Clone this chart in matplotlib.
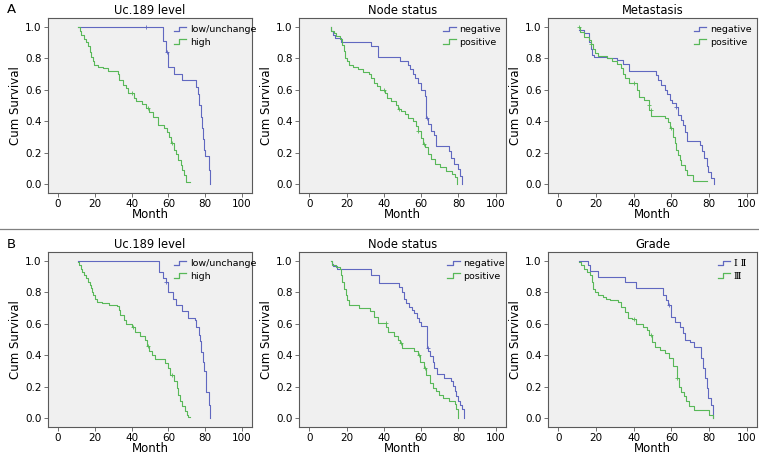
import numpy as np
import matplotlib
matplotlib.use("Agg")
import matplotlib.pyplot as plt
from matplotlib.lines import Line2D
from matplotlib.legend_handler import HandlerBase

plt.rcParams['font.family'] = ['DejaVu Sans']

############################### Data ######################################
# A - Uc.189 level
a1_low_t = [10.8, 57.1, 58.6, 59.8, 63.1, 67.6, 74.8, 76.0, 76.8, 77.5, 78.2, 78.7, 79.3, 80.0, 82.0, 82.9]
a1_low_s = [1.0, 0.91, 0.84, 0.745, 0.70, 0.66, 0.62, 0.57, 0.50, 0.43, 0.36, 0.29, 0.22, 0.18, 0.09, 0.0]
a1_low_c = [48, 59.2]
a1_high_t = [10.8, 11.7, 12.6, 14.1, 15.3, 16.2, 17.1, 18.0, 18.9, 19.8, 21.6, 24.3, 27.0, 32.4, 33.3,
             35.1, 36.9, 37.8, 41.4, 42.3, 45.9, 47.7, 49.5, 51.4, 54.1, 57.7, 59.1, 60.4, 61.6, 63.1,
             64.0, 65.2, 66.7, 67.6, 68.5, 69.4, 71.7]
a1_high_s = [1.0, 0.97, 0.945, 0.92, 0.90, 0.88, 0.84, 0.81, 0.78, 0.76, 0.745, 0.735, 0.72, 0.70, 0.66,
             0.63, 0.61, 0.58, 0.55, 0.53, 0.51, 0.485, 0.46, 0.43, 0.375, 0.355, 0.333, 0.30, 0.26, 0.22,
             0.19, 0.155, 0.12, 0.09, 0.06, 0.013, 0.013]
a1_high_c = [40, 49, 62]

# A - Node status
a2_neg_t = [11.4, 11.9, 12.8, 13.7, 16.9, 33.0, 36.9, 48.5, 52.9, 54.2, 55.6, 56.9, 58.3, 59.7, 61.9,
            62.7, 63.6, 65.4, 66.8, 68.1, 75.2, 76.1, 77.4, 79.7, 81.1, 82.0]
a2_neg_s = [1.0, 0.97, 0.95, 0.93, 0.90, 0.875, 0.806, 0.785, 0.76, 0.73, 0.70, 0.675, 0.645, 0.60, 0.56,
            0.42, 0.38, 0.34, 0.31, 0.244, 0.21, 0.17, 0.128, 0.097, 0.055, 0.0]
a2_neg_c = [63.2]
a2_pos_t = [11.4, 11.9, 13.4, 14.6, 16.4, 17.6, 18.5, 19.1, 20.0, 21.2, 23.5, 26.2, 28.9, 31.9, 33.0,
            34.8, 36.5, 37.8, 40.8, 41.9, 44.0, 46.7, 47.6, 49.4, 51.2, 52.9, 55.6, 57.4, 58.3, 59.7,
            61.0, 61.9, 63.6, 65.4, 67.6, 69.9, 73.4, 76.5, 77.9, 79.3]
a2_pos_s = [1.0, 0.97, 0.96, 0.94, 0.92, 0.886, 0.845, 0.80, 0.78, 0.756, 0.743, 0.73, 0.714, 0.70, 0.676,
            0.644, 0.623, 0.60, 0.58, 0.55, 0.528, 0.503, 0.48, 0.465, 0.444, 0.423, 0.40, 0.37, 0.34, 0.297,
            0.255, 0.234, 0.19, 0.16, 0.128, 0.107, 0.086, 0.065, 0.044, 0.0]
a2_pos_c = [40, 48, 58.5, 61.5]

# A - Metastasis
a3_neg_t = [11.1, 13.4, 16.5, 17.2, 17.9, 18.8, 26.0, 31.4, 34.4, 37.3, 52.0, 52.9, 54.7, 56.5, 57.7,
            59.1, 60.6, 62.4, 63.6, 64.9, 66.0, 67.2, 68.5, 75.3, 76.2, 77.4, 78.9, 79.7, 81.2, 82.4]
a3_neg_s = [0.98, 0.96, 0.90, 0.86, 0.82, 0.81, 0.80, 0.787, 0.766, 0.718, 0.693, 0.66, 0.63, 0.60, 0.57,
            0.535, 0.514, 0.49, 0.44, 0.41, 0.377, 0.335, 0.276, 0.25, 0.21, 0.166, 0.114, 0.078, 0.04, 0.0]
a3_neg_c = [62.4]
a3_pos_t = [11.1, 11.6, 13.4, 16.1, 17.4, 18.3, 19.4, 21.1, 26.0, 28.7, 31.4, 33.2, 34.1, 35.5, 37.3,
            41.6, 43.0, 45.7, 48.0, 48.4, 49.3, 56.5, 58.2, 59.5, 60.9, 61.8, 62.7, 63.6, 64.5, 65.4,
            67.2, 68.5, 71.3, 78.9]
a3_pos_s = [1.0, 0.966, 0.935, 0.914, 0.893, 0.86, 0.83, 0.815, 0.80, 0.78, 0.766, 0.735, 0.697, 0.676, 0.64,
            0.60, 0.556, 0.535, 0.503, 0.47, 0.436, 0.42, 0.394, 0.356, 0.303, 0.26, 0.22, 0.187, 0.156, 0.124,
            0.093, 0.06, 0.019, 0.019]
a3_pos_c = [11.1, 17.4, 40, 48.1, 49, 59.6]

# B - Uc.189 level
b1_low_t = [10.8, 55.1, 57.3, 58.6, 59.6, 62.7, 64.1, 67.2, 70.8, 74.4, 75.3, 76.6, 77.1, 78.0, 78.9,
            79.5, 80.2, 80.7, 82.2, 82.9]
b1_low_s = [1.0, 0.93, 0.89, 0.867, 0.80, 0.76, 0.72, 0.68, 0.635, 0.625, 0.58, 0.53, 0.49, 0.42, 0.36,
            0.30, 0.234, 0.17, 0.085, 0.0]
b1_low_c = [58.9]
b1_high_t = [10.8, 11.4, 12.3, 13.2, 14.1, 15.3, 16.4, 17.1, 17.7, 18.2, 18.9, 20.0, 21.3, 24.0, 27.6,
             32.1, 33.0, 33.9, 35.7, 36.9, 40.2, 41.6, 44.7, 47.4, 48.6, 49.2, 51.0, 52.8, 58.2, 59.6,
             60.9, 63.2, 64.5, 65.4, 66.3, 67.6, 69.0, 69.9, 70.8, 71.7]
b1_high_s = [0.99, 0.97, 0.95, 0.93, 0.91, 0.89, 0.867, 0.846, 0.825, 0.80, 0.78, 0.76, 0.74, 0.73, 0.72,
             0.71, 0.69, 0.656, 0.625, 0.597, 0.58, 0.55, 0.52, 0.50, 0.456, 0.424, 0.40, 0.378, 0.35, 0.32,
             0.276, 0.234, 0.19, 0.15, 0.11, 0.076, 0.044, 0.023, 0.008, 0.008]
b1_high_c = [41, 49, 62]

# B - Node status
b2_neg_t = [11.5, 12.0, 12.9, 15.1, 33.0, 37.5, 48.3, 49.6, 50.6, 51.9, 53.7, 54.9, 56.4, 57.8, 59.1,
            60.0, 63.2, 63.9, 65.0, 66.2, 67.1, 68.6, 72.5, 76.1, 77.0, 77.9, 78.8, 79.7, 81.1, 82.0, 82.9]
b2_neg_s = [1.0, 0.98, 0.966, 0.95, 0.91, 0.86, 0.834, 0.80, 0.76, 0.73, 0.708, 0.687, 0.666, 0.634, 0.613,
            0.588, 0.445, 0.424, 0.393, 0.36, 0.32, 0.28, 0.256, 0.235, 0.204, 0.172, 0.14, 0.11, 0.084, 0.057, 0.0]
b2_neg_c = [63.5]
b2_pos_t = [11.5, 12.4, 14.2, 16.5, 17.2, 17.8, 18.7, 19.6, 20.5, 21.4, 26.8, 32.7, 34.5, 36.6, 41.1,
            42.4, 45.6, 47.4, 48.8, 49.6, 56.4, 58.5, 59.6, 61.4, 62.7, 64.5, 66.2, 68.0, 69.8, 71.6,
            75.2, 77.9, 78.8, 79.7]
b2_pos_s = [1.0, 0.975, 0.96, 0.95, 0.91, 0.866, 0.82, 0.78, 0.75, 0.72, 0.697, 0.68, 0.645, 0.603, 0.58,
            0.55, 0.52, 0.50, 0.477, 0.445, 0.424, 0.40, 0.36, 0.32, 0.277, 0.225, 0.193, 0.172, 0.15, 0.13,
            0.113, 0.088, 0.057, 0.0]
b2_pos_c = [41, 49, 59, 62]

# B - Grade
b3_g12_t = [11.0, 15.8, 16.9, 20.8, 35.2, 41.5, 55.8, 57.3, 58.0, 59.8, 62.1, 64.5, 66.2, 67.5, 69.8,
            72.0, 75.9, 77.0, 77.7, 78.8, 79.5, 81.0, 82.2]
b3_g12_s = [1.0, 0.97, 0.933, 0.897, 0.865, 0.827, 0.78, 0.75, 0.718, 0.644, 0.613, 0.58, 0.54, 0.497, 0.486,
            0.455, 0.38, 0.318, 0.255, 0.19, 0.128, 0.082, 0.0]
b3_g12_c = [59]
b3_g3_t = [11.0, 11.8, 13.6, 15.4, 16.7, 17.8, 18.5, 19.6, 20.8, 23.5, 25.3, 27.5, 31.6, 33.4, 35.2,
           37.0, 39.3, 41.5, 45.1, 46.9, 48.3, 49.6, 51.3, 54.0, 56.7, 58.5, 60.9, 63.0, 63.9, 65.2,
           66.6, 68.0, 69.3, 72.0, 80.1, 82.2]
b3_g3_s = [0.99, 0.97, 0.95, 0.93, 0.907, 0.865, 0.823, 0.80, 0.785, 0.77, 0.76, 0.75, 0.74, 0.707, 0.676,
           0.638, 0.627, 0.60, 0.58, 0.56, 0.528, 0.486, 0.455, 0.434, 0.413, 0.38, 0.33, 0.255, 0.20, 0.17,
           0.14, 0.107, 0.076, 0.055, 0.023, 0.0]
b3_g3_c = [40, 49, 63]

titles = ['Uc.189 level', 'Node status', 'Metastasis', 'Uc.189 level', 'Node status', 'Grade']
labels = [['low/unchange', 'high'], ['negative', 'positive'], ['negative', 'positive'],
          ['low/unchange', 'high'], ['negative', 'positive'], ['\u2160 \u2161', '\u2162']]
x_ticks = [0, 20, 40, 60, 80, 100]
y_ticks = [0.0, 0.2, 0.4, 0.6, 0.8, 1.0]

curves = [
    [(a1_low_t, a1_low_s, a1_low_c), (a1_high_t, a1_high_s, a1_high_c)],
    [(a2_neg_t, a2_neg_s, a2_neg_c), (a2_pos_t, a2_pos_s, a2_pos_c)],
    [(a3_neg_t, a3_neg_s, a3_neg_c), (a3_pos_t, a3_pos_s, a3_pos_c)],
    [(b1_low_t, b1_low_s, b1_low_c), (b1_high_t, b1_high_s, b1_high_c)],
    [(b2_neg_t, b2_neg_s, b2_neg_c), (b2_pos_t, b2_pos_s, b2_pos_c)],
    [(b3_g12_t, b3_g12_s, b3_g12_c), (b3_g3_t, b3_g3_s, b3_g3_c)],
]

############################### Style ######################################
W, H = 759, 454
BLUE = '#6068c0'
GREEN = '#58b858'
SPINE = '#5a5a5a'

# pixel boxes (left, right, top, bottom)
boxes = [(48, 252, 18, 193), (299, 506, 18, 193), (548, 757, 18, 193),
         (48, 252, 252, 427), (299, 506, 252, 427), (548, 757, 252, 427)]
leg_x = [0.585, 0.665, 0.665, 0.585, 0.685, 0.78]


class StepHandler(HandlerBase):
    # legend symbol drawn as a little step like in SPSS
    def create_artists(self, legend, orig_handle, xdescent, ydescent, width, height, fontsize, trans):
        x = [0, width * 0.45, width * 0.45, width]
        y = [height * 0.15, height * 0.15, height * 0.85, height * 0.85]
        ln = Line2D(np.array(x) - xdescent, np.array(y) - ydescent,
                    color=orig_handle.get_color(), lw=0.9)
        ln.set_transform(trans)
        return [ln]


def surv_at(t, s, tc):
    idx = np.searchsorted(np.array(t), np.array(tc), side='right') - 1
    return np.array(s)[np.clip(idx, 0, len(s) - 1)]


fig = plt.figure(figsize=(W / 100, H / 100), dpi=100)

for i in range(6):
    l, r, t, b = boxes[i]
    ax = fig.add_axes([l / W, 1 - b / H, (r - l) / W, (b - t) / H])
    ax.set_facecolor('#f0f0f0')
    handles = []
    for (tt, ss, cc), col in zip(curves[i], [BLUE, GREEN]):
        ln, = ax.step(tt, ss, where='post', color=col, lw=0.8)
        ax.plot(cc, surv_at(tt, ss, cc), ls='none', marker='+', ms=3, mew=0.6, color=col)
        handles.append(ln)
    ax.set_xlim(-5.5, 105.5)
    ax.set_ylim(-0.055, 1.055)
    ax.set_xticks(x_ticks)
    ax.set_yticks(y_ticks)
    ax.set_yticklabels(['%.1f' % v for v in y_ticks])
    ax.tick_params(labelsize=7.5, length=3, width=0.6, color=SPINE, pad=1.5)
    for sp in ax.spines.values():
        sp.set_color(SPINE)
        sp.set_linewidth(0.8)
    ax.set_title(titles[i], fontsize=8.3, pad=3)
    ax.set_xlabel('Month', fontsize=8.5, labelpad=-1)
    ax.set_ylabel('Cum Survival', fontsize=8.5, labelpad=2)
    leg = ax.legend(handles, labels[i], loc='upper left', bbox_to_anchor=(leg_x[i], 0.995),
                    frameon=False, fontsize=6.8, handlelength=1.3, handletextpad=0.4,
                    labelspacing=0.35, borderpad=0.2,
                    handler_map={Line2D: StepHandler()})
    if i == 5:
        for txt in leg.get_texts():
            txt.set_family(['DejaVu Serif', 'Noto Sans CJK SC'])

fig.text(7 / W, 1 - 13 / H, 'A', fontsize=9.5)
fig.text(7 / W, 1 - 248 / H, 'B', fontsize=9.5)
fig.add_artist(Line2D([0, 1], [1 - 229 / H, 1 - 229 / H], color='#808080', lw=0.9))

fig.savefig('out.png', dpi=100)
